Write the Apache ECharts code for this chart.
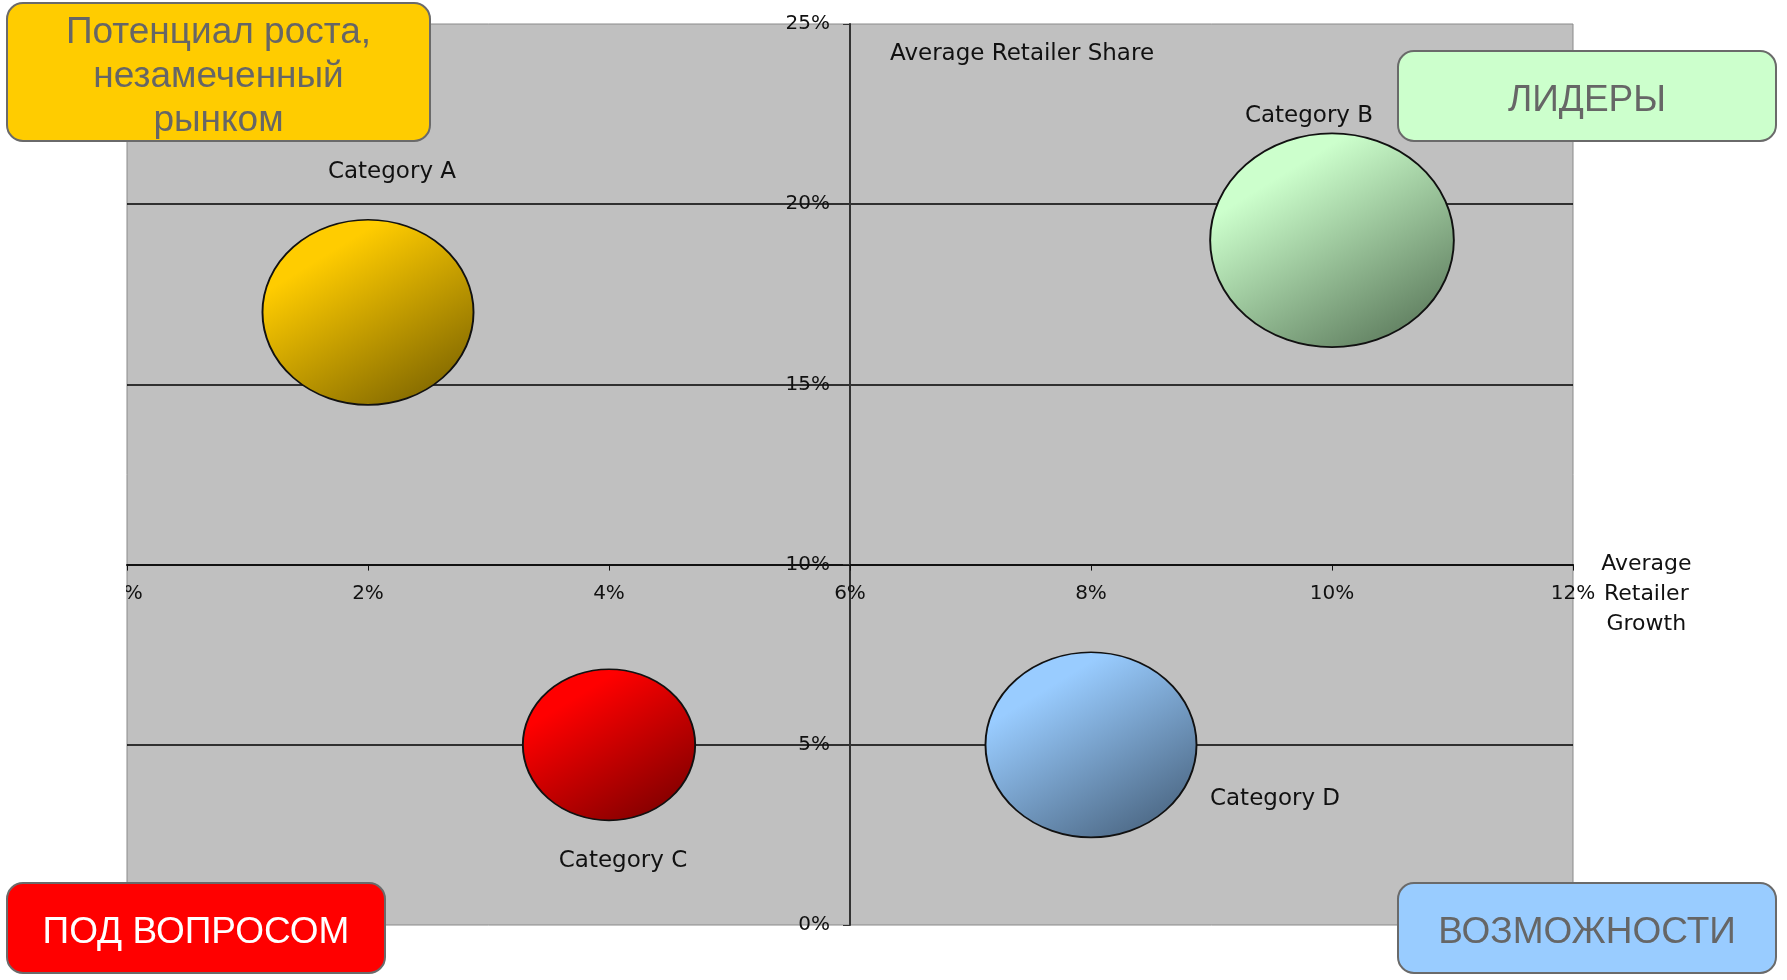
<!DOCTYPE html>
<html>
<head>
<meta charset="utf-8">
<script src="https://cdn.jsdelivr.net/npm/echarts@6/dist/echarts.min.js"></script>
<style>
  html, body { margin: 0; padding: 0; background: #fff; }
  #chart { width: 1787px; height: 980px; }
</style>
</head>
<body>
<div id="chart"></div>
<script>
const categories = ['Category A', 'Category B', 'Category C', 'Category D']
const growth = [2, 10, 4, 8]          // Average Retailer Growth, %
const share = [17, 19, 5, 5]          // Average Retailer Share, %
const bubbleSize = [30, 40, 20, 30]

const xTicks = { min: 0, max: 12, interval: 2 }
const yTicks = { min: 0, max: 25, interval: 5 }

const quadrants = ['Потенциал роста,\nнезамеченный\nрынком', 'ЛИДЕРЫ', 'ПОД ВОПРОСОМ', 'ВОЗМОЖНОСТИ']

// light -> dark gradient for each bubble
const bubbleColors = [
  ['#ffcc00', '#7a6200'],
  ['#ccffcc', '#587558'],
  ['#ff0000', '#7a0000'],
  ['#99ccff', '#47617c']
]
const labelOffsets = [[24, -140], [-23, -124], [14, 116], [184, 54]]

const chart = echarts.init(document.getElementById('chart'))

const gridLeft = 127
const gridTop = 24
const gridWidth = 1446
const gridHeight = 901

const tickFont = { color: '#111', fontSize: 20, fontFamily: 'DejaVu Sans' }
const textFont = { color: '#111', fontSize: 23, fontFamily: 'DejaVu Sans' }

const seriesData = categories.map((name, i) => ({
  name: name,
  value: [growth[i], share[i], bubbleSize[i]],
  itemStyle: {
    color: new echarts.graphic.LinearGradient(0.15, 0, 0.85, 1, [
      { offset: 0, color: bubbleColors[i][0] },
      { offset: 0.2, color: bubbleColors[i][0] },
      { offset: 1, color: bubbleColors[i][1] }
    ]),
    borderColor: '#111',
    borderWidth: 1.8,
    opacity: 1
  },
  label: Object.assign({
    show: true,
    position: 'inside',
    offset: labelOffsets[i],
    formatter: '{b}'
  }, textFont)
}))

const boxes = [
  { x: 7, y: 3, w: 423, h: 138, fill: '#ffcc00', color: '#666666' },
  { x: 1398, y: 51, w: 378, h: 90, fill: '#ccffcc', color: '#666666' },
  { x: 7, y: 883, w: 378, h: 90, fill: '#ff0000', color: '#ffffff' },
  { x: 1398, y: 883, w: 378, h: 90, fill: '#99ccff', color: '#666666' }
]

const option = {
  animation: false,
  grid: {
    left: gridLeft,
    top: gridTop,
    width: gridWidth,
    height: gridHeight,
    show: true,
    backgroundColor: '#c0c0c0',
    borderColor: '#8a8a8a',
    borderWidth: 1
  },
  xAxis: {
    type: 'value',
    min: xTicks.min,
    max: xTicks.max,
    interval: xTicks.interval,
    offset: -gridHeight * 10 / 25,
    name: '\n\nAverage\nRetailer\nGrowth',
    nameLocation: 'end',
    nameGap: 72,
    nameTextStyle: Object.assign({
      align: 'center',
      verticalAlign: 'middle',
      lineHeight: 30
    }, textFont, { fontSize: 22 }),
    axisLine: { onZero: false, lineStyle: { color: '#111', width: 2 } },
    axisTick: { show: true, inside: false, length: 6, lineStyle: { color: '#111' } },
    axisLabel: Object.assign({ formatter: '{value}%', margin: 19 }, tickFont),
    splitLine: { show: false }
  },
  yAxis: {
    type: 'value',
    min: yTicks.min,
    max: yTicks.max,
    interval: yTicks.interval,
    offset: -gridWidth / 2,
    name: 'Average Retailer Share',
    nameLocation: 'end',
    nameGap: -30,
    nameTextStyle: Object.assign({
      align: 'left',
      verticalAlign: 'middle',
      padding: [0, 0, 0, 40]
    }, textFont),
    axisLine: { onZero: false, lineStyle: { color: '#333', width: 2 } },
    axisTick: { show: true, inside: false, length: 7, lineStyle: { color: '#333' } },
    axisLabel: Object.assign({ formatter: '{value}%', margin: 20 }, tickFont),
    splitLine: {
      show: true,
      showMinLine: false,
      showMaxLine: false,
      lineStyle: { color: '#000', width: 1.5 }
    }
  },
  series: [
    {
      type: 'scatter',
      data: seriesData,
      symbol: 'circle',
      symbolSize: function (val) {
        const h = 33.8 * Math.sqrt(val[2])
        return [h * 1.14, h]
      },
      z: 3
    }
  ],
  graphic: [
    // hides the clipped "0" of the first x label, as in the slide
    {
      type: 'rect',
      shape: { x: 0, y: 574, width: gridLeft - 1, height: 40 },
      style: { fill: '#ffffff' },
      z: 50
    }
  ].concat(boxes.map((b, i) => ({
    type: 'group',
    z: 100,
    children: [
      {
        type: 'rect',
        shape: { x: b.x, y: b.y, width: b.w, height: b.h, r: 16 },
        style: { fill: b.fill, stroke: '#6a6a6a', lineWidth: 2 },
        z: 100
      },
      {
        type: 'text',
        x: b.x + b.w / 2,
        y: b.y + b.h / 2 + 5,
        style: {
          text: quadrants[i],
          fill: b.color,
          font: '37px "Liberation Sans"',
          align: 'center',
          verticalAlign: 'middle',
          lineHeight: 44
        },
        z: 101
      }
    ]
  })))
}

chart.setOption(option)
</script>
</body>
</html>
